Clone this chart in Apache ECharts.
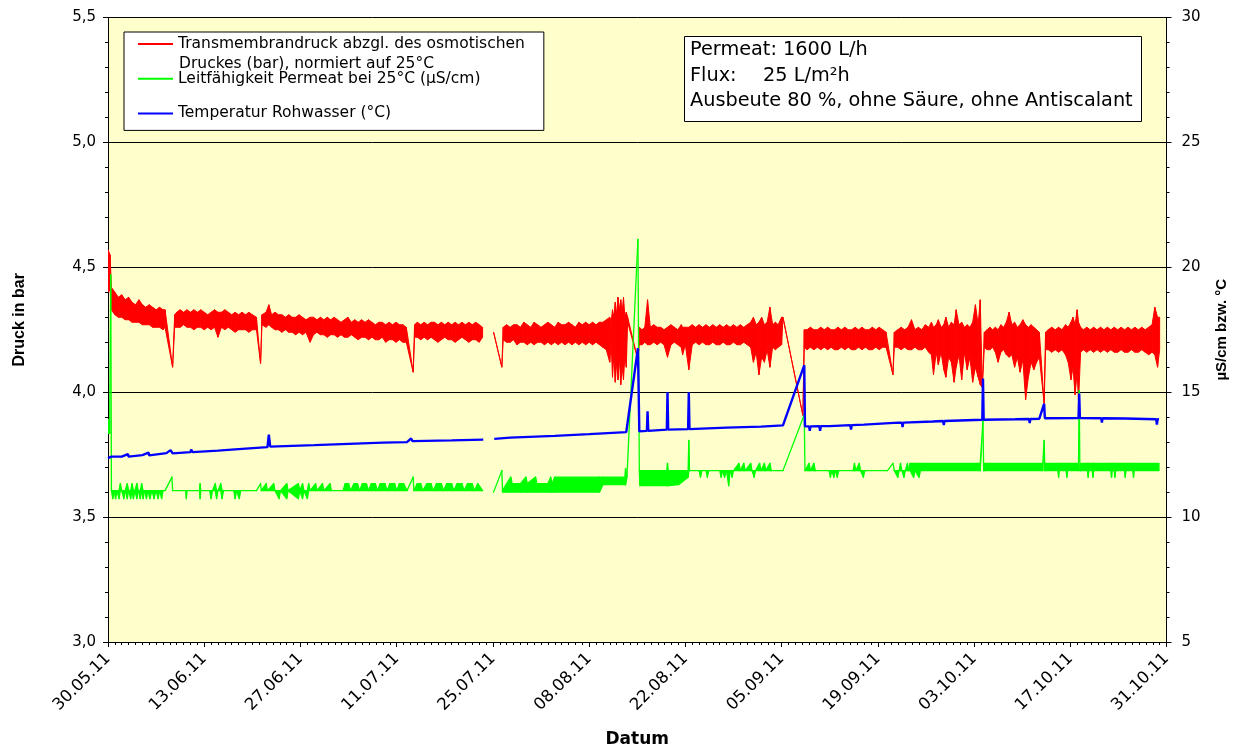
<!DOCTYPE html>
<html>
<head>
<meta charset="utf-8">
<script src="https://cdn.jsdelivr.net/npm/echarts@6/dist/echarts.min.js"></script>
<style>
html,body{margin:0;padding:0;background:#fff;}
#chart{width:1234px;height:751px;}
</style>
</head>
<body>
<div id="chart"></div>
<script>
// x values are days after 30.05.11
var dateLabels = ['30.05.11','13.06.11','27.06.11','11.07.11','25.07.11','08.08.11','22.08.11','05.09.11','19.09.11','03.10.11','17.10.11','31.10.11'];
var leftTicks = [3.0, 3.5, 4.0, 4.5, 5.0, 5.5];
var rightTicks = [5, 10, 15, 20, 25, 30];
var seriesNames = ['Transmembrandruck abzgl. des osmotischen', 'Leitfähigkeit Permeat bei 25°C (µS/cm)', 'Temperatur Rohwasser (°C)'];
var legendSecondLine = 'Druckes (bar), normiert auf 25°C';

// Transmembrandruck (bar): [day, lowest, highest] of the dense noisy trace
var pressureBand = [
[0,4.40,4.57],[0.3,4.41,4.55],[0.5,4.33,4.42],
[1.0,4.31,4.40],[1.5,4.30,4.38],[2.0,4.30,4.39],[2.5,4.29,4.37],[3.0,4.29,4.38],[3.5,4.28,4.36],[4.0,4.28,4.35],[4.5,4.28,4.37],[5.0,4.27,4.35],[5.5,4.27,4.34],[6.0,4.27,4.35],[6.5,4.26,4.34],[7.0,4.26,4.33],[7.5,4.26,4.34],[8.0,4.25,4.33],[8.3,4.26,4.33],
[9.4,4.10,4.10],
[9.7,4.26,4.31],[10.0,4.26,4.32],[10.5,4.26,4.33],[11.0,4.27,4.32],[11.5,4.26,4.33],[12.0,4.26,4.32],[12.5,4.25,4.33],[13.0,4.26,4.32],[13.5,4.26,4.33],[14.0,4.25,4.32],[14.5,4.26,4.31],[15.0,4.25,4.32],[15.5,4.26,4.33],[16.0,4.22,4.32],[16.5,4.26,4.32],[17.0,4.25,4.33],[17.5,4.26,4.32],[18.0,4.25,4.31],[18.5,4.24,4.32],[19.0,4.25,4.31],[19.5,4.25,4.32],[20.0,4.25,4.31],[20.5,4.24,4.32],[21.0,4.25,4.31],[21.6,4.25,4.30],
[22.2,4.115,4.115],
[22.4,4.27,4.31],[23.0,4.26,4.32],[23.4,4.27,4.35],[23.8,4.26,4.31],[24.3,4.25,4.32],[24.8,4.25,4.31],[25.3,4.24,4.31],[25.8,4.25,4.30],[26.3,4.24,4.31],[26.8,4.24,4.30],[27.3,4.23,4.30],[27.8,4.24,4.31],[28.3,4.23,4.30],[28.8,4.24,4.29],[29.4,4.20,4.30],[29.9,4.23,4.30],[30.4,4.24,4.29],[30.9,4.23,4.30],[31.4,4.23,4.29],[31.9,4.22,4.30],[32.4,4.23,4.29],[32.9,4.23,4.30],[33.4,4.22,4.29],[33.9,4.23,4.28],[34.4,4.22,4.29],[34.9,4.22,4.30],[35.4,4.23,4.28],[35.9,4.22,4.29],[36.4,4.21,4.28],[36.9,4.22,4.29],[37.4,4.22,4.28],[37.9,4.21,4.29],[38.4,4.22,4.28],[38.9,4.21,4.27],[39.4,4.21,4.28],[39.9,4.22,4.28],[40.4,4.20,4.27],[40.9,4.21,4.28],[41.4,4.21,4.27],[41.9,4.20,4.28],[42.4,4.21,4.27],[42.9,4.20,4.27],[43.4,4.20,4.26],
[44.4,4.08,4.08],
[44.6,4.22,4.27],[45.0,4.22,4.28],[45.5,4.21,4.27],[46.0,4.22,4.28],[46.5,4.21,4.27],[47.0,4.22,4.28],[47.5,4.21,4.28],[48.0,4.20,4.27],[48.5,4.21,4.28],[49.0,4.22,4.27],[49.5,4.21,4.28],[50.0,4.21,4.27],[50.5,4.20,4.28],[51.0,4.21,4.27],[51.5,4.22,4.28],[52.0,4.21,4.27],[52.5,4.20,4.28],[53.0,4.21,4.27],[53.5,4.21,4.28],[54.0,4.20,4.27],[54.5,4.22,4.26],
[55.3,null,null],
[56.1,4.24,4.24],[57.3,4.10,4.10],[57.5,4.21,4.26],[58.0,4.20,4.27],[58.5,4.20,4.26],[59.0,4.21,4.27],[59.5,4.19,4.27],[60.0,4.20,4.26],[60.5,4.20,4.28],[61.0,4.19,4.27],[61.5,4.20,4.26],[62.0,4.19,4.28],[62.5,4.20,4.27],[63.0,4.20,4.26],[63.5,4.19,4.27],[64.0,4.20,4.28],[64.5,4.19,4.27],[65.0,4.20,4.26],[65.5,4.19,4.28],[66.0,4.20,4.27],[66.5,4.19,4.27],[67.0,4.20,4.28],[67.5,4.19,4.27],[68.0,4.20,4.26],[68.5,4.19,4.28],[69.0,4.20,4.27],[69.5,4.19,4.28],[70.0,4.20,4.27],[70.5,4.19,4.28],[71.0,4.20,4.27],[71.5,4.19,4.28],[72.0,4.18,4.28],[72.5,4.17,4.29],
[73.0,4.12,4.30],[73.2,4.20,4.28],[73.4,4.06,4.33],[73.6,4.15,4.30],[73.8,4.04,4.36],[74.0,4.12,4.31],[74.2,4.05,4.38],[74.4,4.14,4.33],[74.6,4.03,4.37],[74.8,4.10,4.32],[75.0,4.05,4.38],[75.2,4.15,4.30],[75.4,4.10,4.32],[75.6,4.28,4.30],
[77.1,4.13,4.13],
[77.3,4.19,4.26],[77.7,4.19,4.25],[78.1,4.20,4.26],[78.5,4.19,4.37],[78.9,4.19,4.26],[79.4,4.20,4.27],[79.9,4.19,4.26],[80.4,4.20,4.26],[80.9,4.19,4.25],[81.4,4.14,4.26],[81.9,4.19,4.27],[82.4,4.20,4.26],[82.9,4.19,4.25],[83.4,4.18,4.27],[83.6,4.15,4.26],[84.0,4.19,4.26],[84.5,4.09,4.26],[85.0,4.19,4.27],[85.5,4.20,4.26],[86.0,4.19,4.27],[86.5,4.20,4.26],[87.0,4.19,4.27],[87.5,4.19,4.26],[88.0,4.20,4.27],[88.5,4.19,4.26],[89.0,4.19,4.27],[89.5,4.20,4.26],[90.0,4.19,4.27],[90.5,4.19,4.26],[91.0,4.20,4.27],[91.5,4.19,4.26],[92.0,4.19,4.27],[92.5,4.20,4.26],[93.0,4.19,4.27],[93.5,4.18,4.28],
[93.9,4.12,4.30],[94.3,4.16,4.27],[94.7,4.07,4.28],[95.1,4.14,4.30],[95.5,4.12,4.27],[95.9,4.17,4.28],[96.3,4.10,4.34],[96.7,4.18,4.27],[97.1,4.17,4.28],[97.5,4.18,4.27],[98.0,4.19,4.30],[98.2,4.30,4.30],
[101.1,3.907,3.907],
[101.3,4.18,4.25],[101.7,4.17,4.25],[102.2,4.18,4.26],[102.7,4.17,4.25],[103.2,4.18,4.25],[103.7,4.17,4.26],[104.2,4.18,4.25],[104.7,4.17,4.26],[105.2,4.18,4.25],[105.7,4.17,4.25],[106.2,4.17,4.26],[106.7,4.18,4.25],[107.2,4.17,4.26],[107.7,4.18,4.25],[108.2,4.17,4.25],[108.7,4.17,4.26],[109.2,4.18,4.25],[109.7,4.17,4.26],[110.2,4.18,4.25],[110.7,4.17,4.25],[111.2,4.17,4.26],[111.7,4.18,4.25],[112.2,4.17,4.26],[112.7,4.18,4.25],[113.2,4.18,4.24],
[114.2,4.07,4.07],
[114.4,4.18,4.24],[114.9,4.18,4.25],[115.4,4.17,4.26],[115.9,4.18,4.25],[116.4,4.17,4.26],[116.9,4.17,4.29],[117.4,4.18,4.25],[117.9,4.17,4.26],[118.4,4.17,4.25],[118.9,4.18,4.27],[119.4,4.16,4.26],[119.8,4.15,4.28],[120.1,4.07,4.26],[120.5,4.16,4.27],[120.8,4.11,4.29],[121.2,4.16,4.26],[121.6,4.09,4.27],[121.9,4.06,4.30],[122.3,4.14,4.26],[122.7,4.12,4.28],[123.1,4.04,4.27],[123.4,4.10,4.33],[123.8,4.15,4.27],[124.2,4.05,4.28],[124.6,4.16,4.26],[125.0,4.09,4.27],[125.4,4.14,4.26],[125.8,4.04,4.28],[126.2,4.10,4.35],[126.6,4.06,4.27],[126.9,4.03,4.37],[127.2,4.02,4.02],[127.5,4.18,4.24],
[127.9,4.17,4.25],[128.3,4.17,4.26],[128.7,4.18,4.25],[129.1,4.16,4.26],[129.5,4.12,4.25],[129.9,4.16,4.27],[130.3,4.17,4.26],[130.7,4.15,4.28],[131.1,4.14,4.32],[131.5,4.15,4.27],[131.9,4.10,4.28],[132.3,4.14,4.26],[132.7,4.08,4.27],[133.1,4.13,4.29],[133.5,3.97,4.27],[133.9,4.06,4.26],[134.3,4.12,4.27],[134.7,4.09,4.26],[135.1,4.12,4.25],[135.5,4.14,4.24],
[136.2,3.955,3.955],
[136.4,4.17,4.24],[136.8,4.17,4.25],[137.3,4.16,4.26],[137.8,4.17,4.25],[138.3,4.16,4.26],[138.8,4.17,4.25],[139.3,4.15,4.27],[139.7,4.12,4.26],[140.1,4.05,4.28],[140.4,4.10,4.30],[140.7,3.99,4.27],[141.0,4.08,4.33],[141.2,3.96,4.28],[141.5,4.16,4.26],[141.9,4.17,4.25],[142.4,4.16,4.26],[142.9,4.17,4.25],[143.4,4.16,4.26],[143.9,4.17,4.25],[144.4,4.16,4.26],[144.9,4.17,4.25],[145.4,4.16,4.26],[145.9,4.17,4.25],[146.4,4.16,4.26],[146.9,4.16,4.25],[147.4,4.17,4.26],[147.9,4.16,4.25],[148.4,4.16,4.26],[148.9,4.17,4.25],[149.4,4.16,4.26],[149.9,4.16,4.25],[150.4,4.17,4.26],[150.9,4.16,4.25],[151.4,4.15,4.26],[151.9,4.16,4.27],[152.3,4.15,4.34],[152.7,4.10,4.30],[153.0,4.17,4.30]
];

// Leitfähigkeit Permeat (µS/cm): [day, lowest, highest]
var conductivityBand = [
[0,13.35,13.9],[0.25,13.35,13.9],[0.4,19.7,19.7],[0.5,11.06,11.06],
[0.7,10.74,11.06],[0.9,11.06,11.06],[1.1,10.74,11.06],[1.3,11.06,11.06],[1.6,10.74,11.06],[1.8,11.06,11.34],[2.0,11.06,11.06],[2.3,10.74,11.06],[2.5,11.06,11.06],[2.8,10.74,11.34],[3.0,11.06,11.06],[3.3,10.74,11.06],[3.5,11.06,11.34],[3.7,10.74,11.06],[3.9,11.06,11.06],[4.2,10.74,11.34],[4.4,11.06,11.06],[4.7,10.74,11.06],[4.9,11.06,11.34],[5.1,10.74,11.06],[5.3,11.06,11.06],[5.6,10.74,11.06],[5.8,11.06,11.06],[6.1,10.74,11.06],[6.4,11.06,11.06],[6.7,10.74,11.06],[7.0,11.06,11.06],[7.3,10.74,11.06],[7.5,11.06,11.06],[7.8,10.74,11.06],[8.0,11.06,11.06],[8.3,11.06,11.06],
[9.3,11.6,11.6],[9.4,11.06,11.06],
[11.3,11.06,11.06],[11.4,10.74,11.06],[11.5,11.06,11.06],[13.3,11.06,11.06],[13.4,10.74,11.34],[13.5,11.06,11.06],[14.8,11.06,11.06],[15.0,10.74,11.06],[15.2,11.06,11.06],[15.6,11.06,11.34],[15.8,10.74,11.06],[16.0,11.06,11.06],[16.4,11.06,11.34],[16.6,10.74,11.06],[16.8,11.06,11.06],[18.3,11.06,11.06],[18.5,10.74,11.06],[18.7,11.06,11.06],[19.1,10.74,11.06],[19.3,11.06,11.06],[21.6,11.06,11.06],
[22.2,11.34,11.34],[22.3,11.06,11.06],
[23.0,11.06,11.34],[23.2,11.06,11.06],[24.1,11.06,11.34],[24.3,11.06,11.06],[24.9,10.74,11.06],[25.1,11.06,11.06],[26.0,10.74,11.34],[26.2,11.06,11.06],[27.7,10.74,11.34],[27.9,11.06,11.06],[28.3,10.74,11.34],[28.5,11.06,11.06],[29.0,10.74,11.06],[29.2,11.06,11.34],[29.4,11.06,11.06],[30.2,11.06,11.34],[30.4,11.06,11.06],[31.2,11.06,11.34],[31.4,11.06,11.06],[32.3,11.06,11.34],[32.5,11.06,11.06],[34.2,11.06,11.06],[34.5,11.06,11.34],[35.0,11.06,11.34],[35.3,11.06,11.06],[35.8,11.06,11.34],[36.3,11.06,11.34],[36.6,11.06,11.06],[37.0,11.06,11.34],[37.6,11.06,11.34],[37.9,11.06,11.06],[38.3,11.06,11.34],[38.9,11.06,11.34],[39.2,11.06,11.06],[39.6,11.06,11.34],[40.3,11.06,11.34],[40.6,11.06,11.06],[41.0,11.06,11.34],[41.7,11.06,11.34],[42.0,11.06,11.06],[42.4,11.06,11.34],[43.0,11.06,11.34],[43.5,11.06,11.06],
[44.4,11.6,11.6],[44.5,11.06,11.06],
[45.0,11.06,11.34],[45.5,11.06,11.34],[45.8,11.06,11.06],[46.4,11.06,11.34],[47.0,11.06,11.34],[47.3,11.06,11.06],[47.8,11.06,11.34],[48.5,11.06,11.34],[48.8,11.06,11.06],[49.3,11.06,11.34],[50.0,11.06,11.34],[50.3,11.06,11.06],[50.8,11.06,11.34],[51.5,11.06,11.34],[51.8,11.06,11.06],[52.3,11.06,11.34],[53.0,11.06,11.34],[53.3,11.06,11.06],[53.8,11.06,11.34],[54.5,11.06,11.06],
[55.3,null,null],
[56.1,11.0,11.0],[57.3,11.86,11.86],[57.4,11.0,11.06],[58.0,11.0,11.34],[58.6,11.0,11.6],[58.8,11.0,11.34],[60.0,11.0,11.34],[60.8,11.0,11.6],[61.0,11.0,11.34],[62.2,11.0,11.6],[62.4,11.0,11.34],[64.0,11.0,11.34],[64.4,11.0,11.6],[64.6,11.0,11.34],[65.0,11.0,11.6],[71.5,11.0,11.6],[72.0,11.3,11.6],[75.2,11.3,11.6],[75.3,11.3,11.94],[75.5,11.6,11.6],
[77.1,21.12,21.12],[77.3,11.86,11.86],
[77.4,11.26,11.86],[81.3,11.26,11.86],[81.4,11.26,12.15],[81.5,11.26,11.86],[83.0,11.3,11.86],[84.4,11.6,11.86],[84.5,11.86,13.07],[84.6,11.86,11.86],
[86.0,11.86,11.86],[86.2,11.6,11.86],[86.4,11.86,11.86],[87.0,11.86,11.86],[87.2,11.6,11.86],[87.4,11.86,11.86],[89.0,11.86,11.86],[89.2,11.6,11.86],[89.4,11.86,11.86],[89.7,11.6,11.86],[90.0,11.86,11.86],[90.3,11.26,11.86],[90.5,11.86,11.86],[90.8,11.6,11.86],[91.0,11.86,11.86],[91.8,11.86,12.15],[92.0,11.86,11.86],[92.5,11.86,12.15],[92.7,11.86,11.86],[93.5,11.86,12.15],[93.7,11.86,11.86],[94.0,11.6,11.86],[94.2,11.86,11.86],[94.8,11.86,12.15],[95.0,11.86,11.86],[95.5,11.86,12.15],[95.7,11.86,11.86],[96.3,11.86,12.15],[96.5,11.86,11.86],[98.2,11.86,11.86],
[101.3,14.1,14.1],[101.4,11.86,11.86],
[102.0,11.86,12.15],[102.2,11.86,11.86],[102.7,11.86,12.15],[102.9,11.86,11.86],[104.9,11.86,11.86],[105.1,11.6,11.86],[105.3,11.86,11.86],[105.6,11.6,11.86],[105.8,11.86,11.86],[106.1,11.6,11.86],[106.3,11.86,11.86],[108.4,11.86,11.86],[108.6,11.86,12.15],[108.8,11.86,11.86],[109.3,11.86,12.15],[109.5,11.86,11.86],[109.9,11.6,11.86],[110.1,11.86,11.86],[113.4,11.86,11.86],[114.2,12.15,12.15],[114.4,11.86,11.86],[114.9,11.6,11.86],[115.1,11.86,11.86],[115.3,11.86,12.15],[115.5,11.86,11.86],[115.8,11.6,11.86],[116.0,11.86,11.86],[116.3,11.86,12.15],[116.5,11.86,11.86],
[116.7,11.86,12.15],[117.2,11.6,12.15],[117.4,11.86,12.15],[118.0,11.6,12.15],[118.2,11.86,12.15],[126.9,11.86,12.15],
[127.3,13.87,13.87],[127.4,11.86,11.86],[127.5,11.86,12.15],[136.0,11.86,12.15],
[136.2,13.07,13.07],[136.3,11.86,11.86],[136.4,11.86,12.15],[138.2,11.86,12.15],[138.3,11.6,12.15],[138.4,11.86,12.15],[139.4,11.86,12.15],[139.5,11.6,12.15],[139.6,11.86,12.15],[141.2,11.86,12.15],
[141.3,15.07,15.07],[141.4,11.86,11.86],[141.5,11.86,12.15],[142.5,11.86,12.15],[142.6,11.6,12.15],[142.7,11.86,12.15],[143.2,11.86,12.15],[143.3,11.6,12.15],[143.4,11.86,12.15],[145.9,11.86,12.15],[146.0,11.6,12.15],[146.1,11.86,12.15],[146.4,11.86,12.15],[146.5,11.6,12.15],[146.6,11.86,12.15],[147.9,11.86,12.15],[148.0,11.6,12.15],[148.1,11.86,12.15],[149.1,11.86,12.15],[149.2,11.6,12.15],[149.3,11.86,12.15],[152.9,11.86,12.15]
];

// Temperatur Rohwasser (°C): [day, value]
var temperature = [
[0,12.36],[0.5,12.42],[2,12.42],[2.9,12.52],[3.0,12.42],[5,12.48],[5.9,12.58],[6.0,12.47],[8.5,12.56],[9.1,12.68],[9.4,12.55],[12,12.6],[12.1,12.7],[12.3,12.6],[16,12.66],[19,12.72],[23.2,12.8],[23.4,13.3],[23.6,12.82],[30,12.88],[35,12.93],[40,12.98],[43.5,13.0],[44.1,13.15],[44.3,13.04],[50,13.07],[54.6,13.1],
[55.3,null],
[56.2,13.13],[58.5,13.18],[65,13.25],[70,13.32],[75.4,13.40],[77.1,16.76],[77.3,13.43],[78.4,13.45],[78.5,14.24],[78.6,13.45],[81.3,13.5],[81.4,15.0],[81.5,13.5],[84.4,13.52],[84.5,15.0],[84.6,13.52],[90,13.58],[95,13.62],[98.2,13.67],[101.3,16.08],[101.4,13.63],
[102.0,13.63],[102.1,13.45],[102.2,13.63],[103.5,13.64],[103.6,13.45],[103.7,13.64],[105,13.64],[108.0,13.68],[108.1,13.5],[108.2,13.68],[110,13.7],[115,13.78],[115.5,13.78],[115.6,13.6],[115.7,13.78],[120,13.83],[121.5,13.85],[121.6,13.68],[121.7,13.85],[125,13.88],[127.2,13.9],[127.3,15.55],[127.4,13.9],[132,13.92],[134.0,13.93],[134.1,13.76],[134.2,13.93],[135.5,13.94],[136.2,14.54],[136.3,13.96],[141.2,13.97],[141.3,14.95],[141.4,13.97],[144.5,13.96],[144.6,13.78],[144.7,13.96],[148,13.95],[152.5,13.92],[152.6,13.7],[152.7,13.92],[152.9,13.92]
];

// draws the band between lowest and highest reading from one sample to the next
function bandRenderer(band, color, width) {
  return function (params, api) {
    var i = params.dataIndex;
    var a = band[i], b = band[i + 1];
    if (!b || a[1] == null || b[1] == null) { return null; }
    var pts = [api.coord([a[0], a[2]]), api.coord([b[0], b[2]]), api.coord([b[0], b[1]]), api.coord([a[0], a[1]])];
    return {type: 'polygon', shape: {points: pts}, style: {fill: color, stroke: color, lineWidth: width, lineJoin: 'round'}};
  };
}

var FONT = 'DejaVu Sans, Verdana, sans-serif';
var FONT2 = 'Liberation Sans, Arial, Helvetica, sans-serif';
var RED = '#FF0000', GREEN = '#00FF00', BLUE = '#0000FF';
var chart = echarts.init(document.getElementById('chart'), null, {renderer: 'canvas'});
var option = {
  animation: false,
  backgroundColor: '#ffffff',
  grid: {left: 108, right: 67.5, top: 17.5, bottom: 109, show: true, backgroundColor: '#FFFFCC', borderWidth: 0, containLabel: false, outerBoundsMode: 'none'},
  legend: {
    orient: 'vertical', left: 124, top: 32,
    padding: [3, 19, 8, 14],
    itemWidth: 35, itemHeight: 2, itemGap: 16.7,
    icon: 'rect',
    backgroundColor: '#ffffff', borderColor: '#000000', borderWidth: 1,
    textStyle: {fontFamily: FONT, fontSize: 15.5, color: '#000', lineHeight: 18},
    data: seriesNames
  },
  graphic: [
    {type: 'text', z: 100, style: {text: legendSecondLine, x: 179, y: 64, font: '15.5px ' + FONT, fill: '#000', verticalAlign: 'middle', align: 'left'}},
    {type: 'rect', z: 100, shape: {x: 684.5, y: 36.5, width: 457, height: 85}, style: {fill: '#fff', stroke: '#000', lineWidth: 1}},
    {type: 'text', z: 101, style: {text: 'Permeat: 1600 L/h', x: 690, y: 50, font: '19.3px ' + FONT, fill: '#000', verticalAlign: 'middle'}},
    {type: 'text', z: 101, style: {text: 'Flux:', x: 690, y: 75.5, font: '19.3px ' + FONT, fill: '#000', verticalAlign: 'middle'}},
    {type: 'text', z: 101, style: {text: '25 L/m²h', x: 763, y: 75.5, font: '19.3px ' + FONT, fill: '#000', verticalAlign: 'middle'}},
    {type: 'text', z: 101, style: {text: 'Ausbeute 80 %, ohne Säure, ohne Antiscalant', x: 690, y: 101, font: '19.3px ' + FONT, fill: '#000', verticalAlign: 'middle'}}
  ],
  xAxis: {
    type: 'value', min: 0, max: 154, interval: 14,
    name: 'Datum', nameLocation: 'middle', nameGap: 89,
    nameTextStyle: {fontFamily: FONT, fontSize: 17, fontWeight: 'bold', color: '#000'},
    axisLine: {show: true, onZero: false, lineStyle: {color: '#000', width: 1}},
    axisTick: {show: true, length: 5, lineStyle: {color: '#000'}},
    minorTick: {show: true, splitNumber: 14, length: 3, lineStyle: {color: '#000'}},
    splitLine: {show: false},
    axisLabel: {
      rotate: 45, margin: 14, fontFamily: FONT, fontSize: 16.5, color: '#000',
      showMinLabel: true, showMaxLabel: true,
      formatter: function (v) { return dateLabels[Math.round(v / 14)]; }
    }
  },
  yAxis: [
    {
      type: 'value', min: leftTicks[0], max: leftTicks[leftTicks.length - 1], interval: 0.5, position: 'left',
      name: 'Druck in bar', nameLocation: 'middle', nameGap: 80, nameRotate: 90,
      nameTextStyle: {fontFamily: FONT2, fontSize: 16, fontWeight: 'bold', color: '#000', padding: [0, 0, 0, 20]},
      axisLine: {show: true, lineStyle: {color: '#000'}},
      axisTick: {show: true, length: 5, lineStyle: {color: '#000'}},
      minorTick: {show: true, splitNumber: 5, length: 3, lineStyle: {color: '#000'}},
      splitLine: {show: true, lineStyle: {color: '#000', width: 1}},
      axisLabel: {margin: 12, fontFamily: FONT, fontSize: 15, color: '#000',
        formatter: function (v) { return v.toFixed(1).replace('.', ','); }}
    },
    {
      type: 'value', min: rightTicks[0], max: rightTicks[rightTicks.length - 1], interval: 5, position: 'right',
      name: 'µS/cm bzw. °C', nameLocation: 'middle', nameGap: 48, nameRotate: 90,
      nameTextStyle: {fontFamily: FONT2, fontSize: 15, fontWeight: 'bold', color: '#000'},
      axisLine: {show: true, lineStyle: {color: '#000'}},
      axisTick: {show: true, length: 5, lineStyle: {color: '#000'}},
      minorTick: {show: true, splitNumber: 5, length: 3, lineStyle: {color: '#000'}},
      splitLine: {show: false},
      axisLabel: {margin: 15, fontFamily: FONT, fontSize: 15, color: '#000'}
    }
  ],
  series: [
    {name: seriesNames[0], type: 'custom', yAxisIndex: 0, data: pressureBand, encode: {x: 0, y: [1, 2]}, color: RED, clip: true, renderItem: bandRenderer(pressureBand, RED, 1), z: 3},
    {name: seriesNames[1], type: 'custom', yAxisIndex: 1, data: conductivityBand, encode: {x: 0, y: [1, 2]}, color: GREEN, clip: true, renderItem: bandRenderer(conductivityBand, GREEN, 1.3), z: 4},
    {name: seriesNames[2], type: 'line', yAxisIndex: 1, data: temperature, color: BLUE, showSymbol: false, symbol: 'none', connectNulls: false, lineStyle: {color: BLUE, width: 2.4}, z: 5}
  ]
};
chart.setOption(option);
</script>
</body>
</html>
